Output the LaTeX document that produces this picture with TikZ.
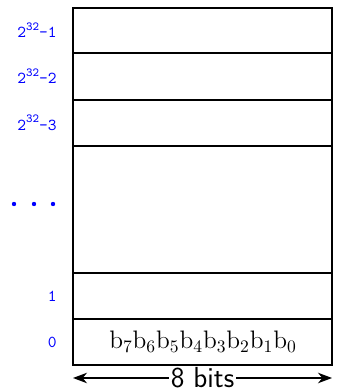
\documentclass[tikz,border=0pt]{standalone}
\usepackage{fontspec}
\usetikzlibrary{positioning, arrows.meta}

\newcommand{\pwr}[1]{\raisebox{0.45em}{\fontsize{7}{8}\selectfont #1}}

\begin{document}
\begin{tikzpicture}[x=0.02cm, y=0.02cm,
	addr/.style={font=\ttfamily\fontsize{9.5}{11}\selectfont, text=blue, anchor=east, inner sep=0pt},
	row/.style={line width=0.8pt}]
	\useasboundingbox (0, 0) rectangle (341, 391);
	% memory column
	\coordinate (bl) at (73, 26);
	\coordinate (tr) at (332, 383);
	\draw[row] (bl) rectangle (tr);
	\foreach \y in {338, 291, 245, 118, 72} {
		\draw[row] (73, \y) -- (332, \y);
	}
	% addresses
	\node[addr] (a1) at (57, 361) {2\pwr{32}-1};
	\node[addr] (a2) at (57, 315) {2\pwr{32}-2};
	\node[addr] (a3) at (57, 268) {2\pwr{32}-3};
	\node[addr] (one) at (57, 95) {1};
	\node[addr] (zero) at (57, 49) {0};
	\foreach \x in {14, 34, 53} {
		\fill[blue] (\x, 187) circle (2.2);
	}
	% byte content
	\node[font=\Large] (byte) at (203, 49) {$\mathrm{b_7b_6b_5b_4b_3b_2b_1b_0}$};
	% width arrow
	\coordinate (wl) at (73, 13);
	\coordinate (wr) at (332, 13);
	\draw[{Stealth[length=8pt, width=6pt, inset=2.5pt]}-{Stealth[length=8pt, width=6pt, inset=2.5pt]}, line width=0.8pt]
		(wl) -- node[fill=white, inner sep=1pt, font=\sffamily\fontsize{16.5}{18}\selectfont] (bits) {8 bits} (wr);
\end{tikzpicture}
\end{document}
